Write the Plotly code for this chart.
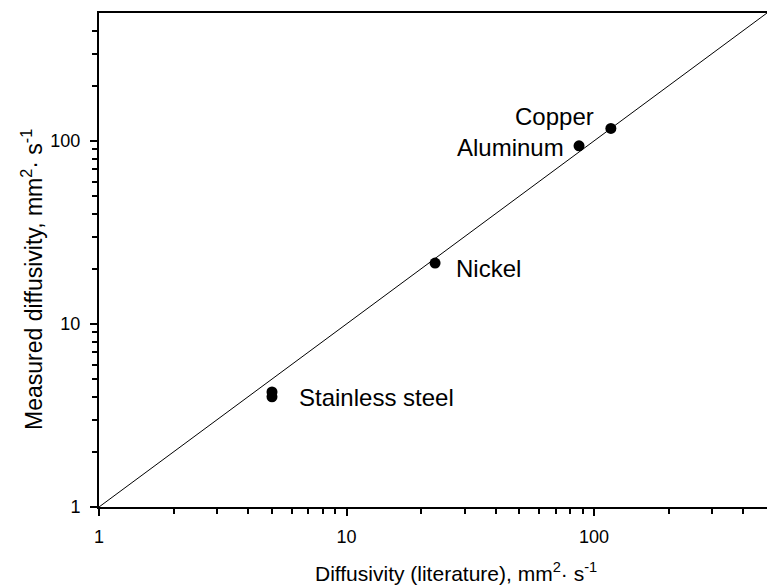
import math
import plotly.graph_objects as go

# Data
materials = ["Stainless steel", "Stainless steel", "Nickel", "Aluminum", "Copper"]
lit_diffusivity = [5.0, 5.0, 22.8, 87.0, 117.0]
measured_diffusivity = [4.25, 4.0, 21.5, 94.0, 117.0]

line_x = [1, 500]
line_y = [1, 500]

major_ticks = [1, 10, 100]
major_text = ["1", "10", "100"]
minor_ticks = [2, 3, 4, 5, 6, 7, 8, 9, 20, 30, 40, 50, 60, 70, 80, 90, 200, 300, 400]

label_names = ["Copper", "Aluminum", "Nickel", "Stainless steel"]
label_x = [117.0, 87.0, 22.8, 5.0]
label_y = [117.0, 94.0, 21.5, 4.25]
label_anchor = ["right", "right", "left", "left"]
label_xshift = [-15, -13, 19, 25]
label_yshift = [12, -2, -5, -6]

FONT = "Liberation Sans, Arial, sans-serif"

fig = go.Figure()
fig.add_trace(go.Scatter(x=line_x, y=line_y, mode="lines",
                         line=dict(color="black", width=1), showlegend=False,
                         hoverinfo="skip"))
fig.add_trace(go.Scatter(x=lit_diffusivity, y=measured_diffusivity, mode="markers",
                         marker=dict(color="black", size=11),
                         text=materials, showlegend=False))

annotations = []
for name, x, y, anchor, xs, ys in zip(label_names, label_x, label_y,
                                      label_anchor, label_xshift, label_yshift):
    annotations.append(dict(x=math.log10(x), y=math.log10(y), xref="x", yref="y",
                            text=name, showarrow=False, xanchor=anchor, yanchor="middle",
                            xshift=xs, yshift=ys,
                            font=dict(family=FONT, size=24, color="black")))

annotations.append(dict(x=0.534, y=-0.132, xref="paper", yref="paper",
                        text="Diffusivity (literature), mm<sup>2</sup>· s<sup>-1</sup>",
                        showarrow=False, xanchor="center", yanchor="middle",
                        font=dict(family=FONT, size=21, color="black")))
annotations.append(dict(x=-0.1, y=0.46, xref="paper", yref="paper",
                        text="Measured diffusivity, mm<sup>2</sup>· s<sup>-1</sup>",
                        textangle=-90,
                        showarrow=False, xanchor="center", yanchor="middle",
                        font=dict(family=FONT, size=23, color="black")))

axis_common = dict(
    type="log",
    showgrid=False,
    zeroline=False,
    showline=True,
    linecolor="black",
    linewidth=2,
    ticks="outside",
    ticklen=7,
    tickwidth=2,
    tickcolor="black",
    tickmode="array",
    tickvals=major_ticks,
    ticktext=major_text,
    tickfont=dict(family=FONT, size=18, color="black"),
    minor=dict(tickmode="array", tickvals=minor_ticks, ticks="outside",
               ticklen=5, tickwidth=2, tickcolor="black", showgrid=False),
)

fig.update_xaxes(**axis_common, range=[0, 2.699], mirror=True, ticklabelstandoff=5)
fig.update_yaxes(**axis_common, range=[0, 2.699], mirror=False, ticklabelstandoff=6)

fig.update_layout(
    width=767, height=588,
    margin=dict(l=99, r=0, t=13, b=81),
    paper_bgcolor="white",
    plot_bgcolor="white",
    annotations=annotations,
    font=dict(family=FONT, color="black"),
)

fig.write_html("out.html")
